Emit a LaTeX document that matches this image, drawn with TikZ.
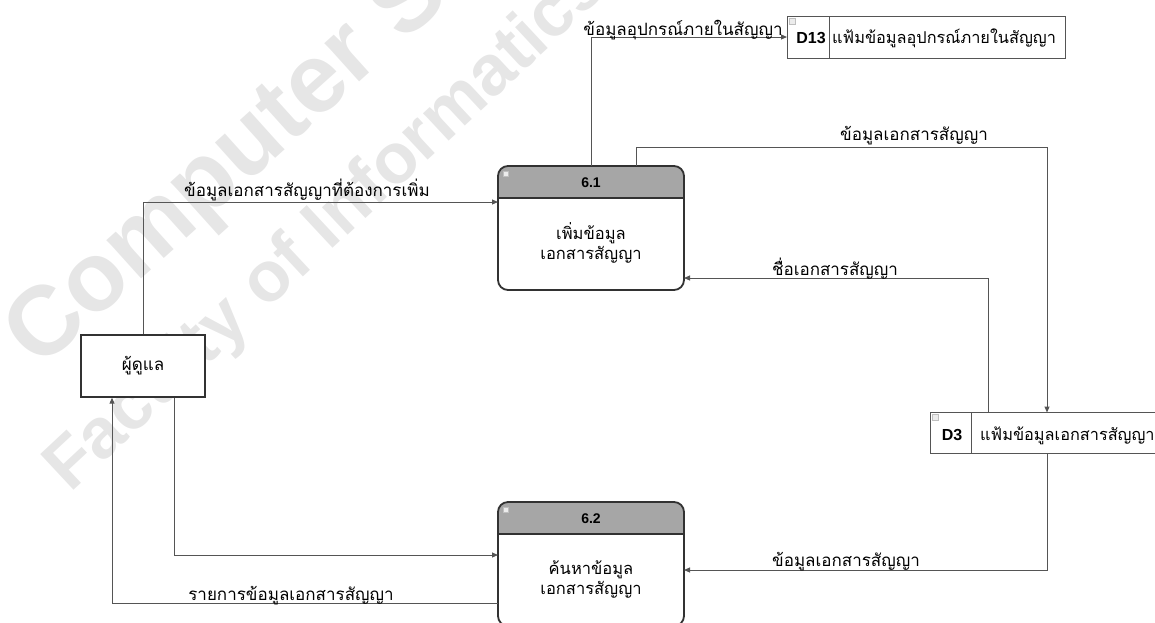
\documentclass[tikz,border=0pt]{standalone}
\usepackage{fontspec}
\setmainfont{Liberation Sans}
\newfontfamily\thai[Script=Thai]{Loma}
\usetikzlibrary{arrows.meta}
\usetikzlibrary{positioning}
\definecolor{linegray}{RGB}{85,85,85}
\definecolor{procline}{RGB}{50,50,50}
\definecolor{headgray}{RGB}{166,166,166}
\definecolor{markgray}{RGB}{230,230,230}
\tikzset{flow/.style = {draw=linegray, line width=1pt,
                        -{Triangle[length=6pt,width=5pt]}},
         flowlabel/.style = {font=\thai\fontsize{17}{19}\selectfont, inner sep=0pt, anchor=base},
         procbox/.style = {draw=procline, line width=1.8pt, rounded corners=10pt,
                           fill=white, minimum width=186pt, minimum height=124pt,
                           outer sep=0pt, inner sep=0pt,
                           path picture={
                             \fill[headgray, sharp corners] (path picture bounding box.north west)
                               rectangle ([yshift=-32pt]path picture bounding box.north east);
                             \draw[procline, line width=1.8pt, sharp corners]
                               ([yshift=-32pt]path picture bounding box.north west) --
                               ([yshift=-32pt]path picture bounding box.north east);
                             \draw[gray!50, fill=gray!15, line width=0.4pt, sharp corners]
                               ([shift={(5pt,-5pt)}]path picture bounding box.north west)
                               rectangle ++(5,5);}},
         proctitle/.style = {font=\bfseries\fontsize{14}{16}\selectfont, inner sep=0pt},
         proctext/.style = {font=\thai\fontsize{16.5}{20}\selectfont, align=center, inner sep=0pt},
         extbox/.style = {draw=procline, line width=1.4pt, fill=white,
                          minimum width=124pt, minimum height=62pt, inner sep=0pt,
                          font=\thai\fontsize{17}{19}\selectfont},
         store/.style = {draw=linegray, line width=1pt, fill=white, inner sep=0pt, outer sep=0pt},
         storeid/.style = {inner sep=0pt, outer sep=0pt, font=\bfseries\fontsize{16}{18}\selectfont},
         storetext/.style = {inner sep=0pt, font=\thai\fontsize{16.3}{18}\selectfont, anchor=base west},
         storemark/.style = {draw=gray!50, fill=gray!15, line width=0.4pt}}

\begin{document}
\begin{tikzpicture}[x=1pt, y=-1pt]
  \useasboundingbox (0,0) rectangle (1155,622);

  % watermark
  \begin{scope}
    \clip (0,0) rectangle (1155,622);
    \node [text=markgray, font=\bfseries\fontsize{98}{98}\selectfont, inner sep=0pt,
           rotate=42, anchor=base west] (wmark1) at (39,371) {Computer Science};
    \node [text=markgray, font=\bfseries\fontsize{71}{71}\selectfont, inner sep=0pt,
           rotate=43, anchor=base west] (wmark2) at (70,494) {Faculty of Informatics};
  \end{scope}

  % processes
  \node [procbox] (p61) at (591,228) {};
  \node [proctitle] (p61t) at (591,183) {6.1};
  \node [proctext, anchor=base] (p61x) at (591,259) {เพิ่มข้อมูล\\เอกสารสัญญา};

  \node [procbox] (p62) at (591,564) {};
  \node [proctitle] (p62t) at (591,519) {6.2};
  \node [proctext, anchor=base] (p62x) at (591,594) {ค้นหาข้อมูล\\เอกสารสัญญา};

  % external entity
  \node [extbox] (admin) at (143,366) {ผู้ดูแล};

  % data stores
  \node [store, minimum width=278pt, minimum height=42pt] (d13) at (926,37) {};
  \node [store, minimum width=42pt, minimum height=42pt, anchor=west] (d13id) at (d13.west) {};
  \node [storeid] (d13n) at (811,38) {D13};
  \node [storetext] (d13x) at (832,43) {แฟ้มข้อมูลอุปกรณ์ภายในสัญญา};
  \draw [storemark] ([shift={(2,2)}]d13.north west) rectangle ++(6,6);

  \node [store, minimum width=234pt, minimum height=41pt] (d3) at (1047,433) {};
  \node [store, minimum width=41pt, minimum height=41pt, anchor=west] (d3id) at (d3.west) {};
  \node [storeid] (d3n) at (952,435) {D3};
  \node [storetext] (d3x) at (980,440) {แฟ้มข้อมูลเอกสารสัญญา};
  \draw [storemark] ([shift={(2,2)}]d3.north west) rectangle ++(6,6);

  % flows
  \draw [flow] (admin.north) |- ([yshift=26]p61.west);
  \node [flowlabel] (l1) at (307,196) {ข้อมูลเอกสารสัญญาที่ต้องการเพิ่ม};

  \draw [flow] (p61.north) |- (d13.west);
  \node [flowlabel] (l2) at (683,35) {ข้อมูลอุปกรณ์ภายในสัญญา};

  \draw [flow] ([xshift=45]p61.north) |- ([yshift=265]d3.north) -- (d3.north);
  \node [flowlabel] (l3) at (914,140) {ข้อมูลเอกสารสัญญา};

  \draw [flow] ([xshift=-59]d3.north) |- ([yshift=-50]p61.east);
  \node [flowlabel] (l4) at (835,275) {ชื่อเอกสารสัญญา};

  \draw [flow] (d3.south) |- ([yshift=-6]p62.east);
  \node [flowlabel] (l5) at (846,566) {ข้อมูลเอกสารสัญญา};

  \draw [flow] ([xshift=31]admin.south) |- ([yshift=9]p62.west);

  \draw [flow] ([yshift=-39]p62.west) -| ([xshift=-31]admin.south);
  \node [flowlabel] (l6) at (291,600) {รายการข้อมูลเอกสารสัญญา};
\end{tikzpicture}
\end{document}
